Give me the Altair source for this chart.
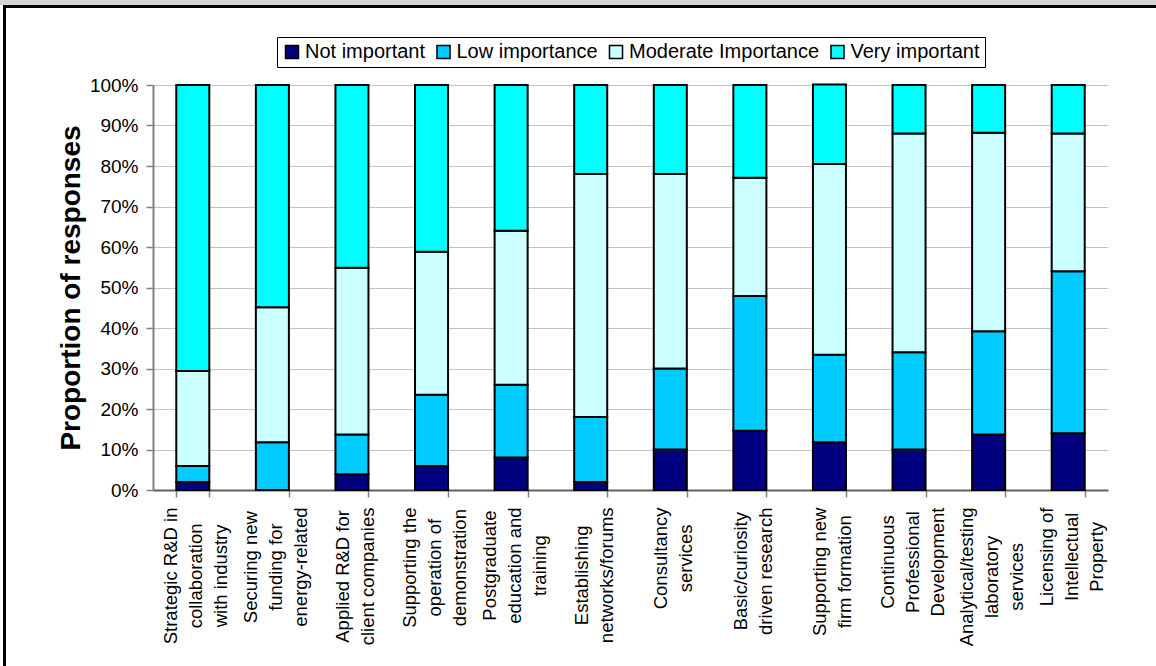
import json

import altair as alt
import pandas as pd

# Activities (x categories), one string per bar, lines split on "\n"
activities = [
    "Strategic R&D in\ncollaboration\nwith industry",
    "Securing new\nfunding for\nenergy-related",
    "Applied R&D for\nclient companies",
    "Supporting the\noperation of\ndemonstration",
    "Postgraduate\neducation and\ntraining",
    "Establishing\nnetworks/forums",
    "Consultancy\nservices",
    "Basic/curiosity\ndriven research",
    "Supporting new\nfirm formation",
    "Continuous\nProfessional\nDevelopment",
    "Analytical/testing\nlaboratory\nservices",
    "Licensing of\nIntellectual\nProperty",
]

levels = ["Not important", "Low importance", "Moderate Importance", "Very important"]
level_colors = ["#000080", "#00CCFF", "#CCFFFF", "#00FFFF"]

# Share of responses (%) per activity for each importance level
not_important = [2.0, 0.0, 3.9, 5.9, 8.0, 2.0, 10.0, 14.6, 11.8, 10.0, 13.7, 14.0]
low_importance = [3.9, 11.8, 9.8, 17.6, 18.0, 16.0, 20.0, 33.3, 21.6, 24.0, 25.5, 40.0]
moderate_importance = [23.5, 33.3, 41.2, 35.3, 38.0, 60.0, 48.0, 29.2, 47.1, 54.0, 49.0, 34.0]
very_important = [70.6, 54.9, 45.1, 41.2, 36.0, 22.0, 22.0, 22.9, 19.6, 12.0, 11.8, 12.0]

y_ticks = [0, 10, 20, 30, 40, 50, 60, 70, 80, 90, 100]

series = [not_important, low_importance, moderate_importance, very_important]
rows = []
for rank, (level, values) in enumerate(zip(levels, series)):
    for activity, v in zip(activities, values):
        rows.append({"activity": activity, "level": level, "share": v, "rank": rank})
df = pd.DataFrame(rows)

FONT = "Liberation Sans"
X_LABEL_SIZE = 18.5
X_LINE_HEIGHT = 25

# Arial / Liberation Sans advance widths (1/1000 em), used to centre the
# multi-line category labels the way spreadsheet charts do.
GLYPH_W = {
    " ": 278, "&": 667, "-": 333, "/": 278,
    "A": 667, "B": 667, "C": 722, "D": 722, "E": 667, "I": 278, "L": 556,
    "P": 667, "R": 722, "S": 667,
    "a": 556, "b": 556, "c": 500, "d": 556, "e": 556, "f": 278, "g": 556,
    "h": 556, "i": 222, "j": 222, "k": 500, "l": 222, "m": 833, "n": 556,
    "o": 556, "p": 556, "q": 556, "r": 333, "s": 500, "t": 278, "u": 556,
    "v": 500, "w": 722, "x": 500, "y": 500, "z": 500,
}


def line_width(text, size):
    return sum(GLYPH_W.get(ch, 556) for ch in text) * size / 1000.0


half_block = [
    round(max(line_width(ln, X_LABEL_SIZE) for ln in a.split("\n")) / 2, 1)
    for a in activities
]
label_padding_expr = (
    f"10 + {json.dumps(half_block)}[indexof({json.dumps(activities)}, datum.value)]"
)
label_offset_expr = (
    f"3 - (length(split(datum.value, '\\n')) - 1) * {X_LINE_HEIGHT / 2}"
)

bars = alt.Chart(df).mark_bar(stroke="black", strokeWidth=2).encode(
    x=alt.X(
        "activity:N",
        sort=activities,
        scale=alt.Scale(domain=activities, paddingInner=0.585, paddingOuter=0.2925),
        axis=alt.Axis(
            title=None,
            labelExpr="split(datum.label, '\\n')",
            labelAngle=270,
            labelAlign="center",
            labelBaseline="middle",
            labelFontSize=X_LABEL_SIZE,
            labelLineHeight=X_LINE_HEIGHT,
            labelPadding=alt.ExprRef(expr=label_padding_expr),
            labelOffset=alt.ExprRef(expr=label_offset_expr),
            labelLimit=400,
            labelOverlap=False,
            labelColor="black",
            labelFont=FONT,
            tickBand="extent",
            tickSize=7,
            tickColor="#808080",
            tickWidth=1.5,
            domainColor="#606060",
            domainWidth=2,
            grid=False,
        ),
    ),
    y=alt.Y(
        "share:Q",
        stack="zero",
        scale=alt.Scale(domain=[0, 100], nice=False),
        axis=alt.Axis(
            title="Proportion of responses",
            titleFontSize=28,
            titleFontWeight="bold",
            titleFont=FONT,
            titleColor="black",
            titlePadding=4,
            values=y_ticks,
            labelExpr="datum.value + '%'",
            labelFontSize=19,
            labelFont=FONT,
            labelColor="black",
            labelPadding=8,
            tickSize=7,
            tickColor="#808080",
            tickWidth=1.5,
            domainColor="#808080",
            domainWidth=2,
            grid=True,
            gridColor="#c4c4c4",
            gridWidth=1,
        ),
    ),
    color=alt.Color(
        "level:N",
        scale=alt.Scale(domain=levels, range=level_colors),
        legend=alt.Legend(
            title=None,
            orient="none",
            legendX=124,
            legendY=-48,
            direction="horizontal",
            symbolType="square",
            symbolSize=170,
            symbolStrokeColor="black",
            symbolStrokeWidth=1.5,
            labelFontSize=20,
            labelFont=FONT,
            labelColor="black",
            labelOffset=3,
            labelLimit=300,
            columnPadding=7.5,
            strokeColor="black",
            fillColor="white",
            padding=5,
        ),
    ),
    order=alt.Order("rank:Q"),
)

# Gray strip above the framed figure and the heavy black frame around it
strip = alt.Chart(alt.Data(values=[{}])).mark_rect(fill="#d4d4d4").encode(
    x=alt.value(-153), x2=alt.value(1003), y=alt.value(-85), y2=alt.value(-80)
)
frame = alt.Chart(alt.Data(values=[{}])).mark_rect(
    fill="transparent", stroke="black", strokeWidth=3
).encode(
    x=alt.value(-148.5), x2=alt.value(1100), y=alt.value(-78.5), y2=alt.value(700)
)

chart = alt.layer(strip, frame, bars).properties(
    width=955,
    height=405,
    autosize=alt.AutoSizeParams(type="none"),
    padding={"left": 153, "top": 85, "right": 48, "bottom": 176},
    background="white",
).configure_view(stroke=None)

chart.save("out.html", embed_options={"renderer": "svg", "actions": False})
